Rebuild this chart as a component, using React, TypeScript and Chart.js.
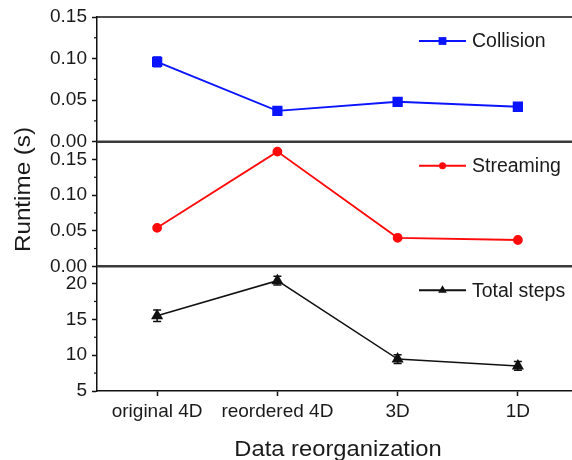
import React, { useEffect, useRef } from 'react';
import { Chart, registerables } from 'chart.js';

Chart.register(...registerables);

// ---- data ----
const categories = ['original 4D', 'reordered 4D', '3D', '1D'];
const collision = [0.096, 0.037, 0.048, 0.042];
const collisionErr = [0.006, 0.002, 0.002, 0.002];
const streaming = [0.054, 0.161, 0.04, 0.037];
const totalSteps = [15.5, 20.4, 9.45, 8.5];
const totalErr = [0.8, 0.6, 0.6, 0.6];

const collisionTicks = [0, 0.05, 0.1, 0.15];
const collisionMinor = [0.025, 0.075, 0.125];
const streamingTicks = [0, 0.05, 0.1, 0.15];
const streamingMinor = [0.025, 0.075, 0.125];
const totalTicks = [5, 10, 15, 20];
const totalMinor = [7.5, 12.5, 17.5];

const FONT = "'Liberation Sans', Arial, sans-serif";
const TEXT = '#1a1a1a';

const errs: Record<string, number[]> = { Collision: collisionErr, 'Total steps': totalErr };
const minors: Record<string, number[]> = { yC: collisionMinor, yS: streamingMinor, yT: totalMinor };

function drawMarker(ctx: CanvasRenderingContext2D, style: string, x: number, y: number, r: number, color: string) {
  ctx.save();
  ctx.fillStyle = color;
  ctx.beginPath();
  if (style === 'rect') {
    const s = Math.SQRT1_2 * r;
    ctx.rect(x - s, y - s, 2 * s, 2 * s);
  } else if (style === 'triangle') {
    ctx.moveTo(x, y - r);
    ctx.lineTo(x + r * 0.866, y + r * 0.5);
    ctx.lineTo(x - r * 0.866, y + r * 0.5);
    ctx.closePath();
  } else {
    ctx.arc(x, y, r, 0, Math.PI * 2);
  }
  ctx.fill();
  ctx.restore();
}

const decorPlugin = {
  id: 'decor',
  afterDatasetsDraw(chart: any) {
    const ctx = chart.ctx;
    chart.data.datasets.forEach((ds: any, di: number) => {
      const e = errs[ds.label];
      if (!e) return;
      const meta = chart.getDatasetMeta(di);
      const ys = chart.scales[ds.yAxisID];
      ctx.save();
      ctx.strokeStyle = ds.borderColor;
      ctx.lineWidth = 1.5;
      meta.data.forEach((pt: any, i: number) => {
        const v = ds.data[i].y;
        const y1 = ys.getPixelForValue(v - e[i]);
        const y2 = ys.getPixelForValue(v + e[i]);
        ctx.beginPath();
        ctx.moveTo(pt.x, y1);
        ctx.lineTo(pt.x, y2);
        ctx.moveTo(pt.x - 4, y1);
        ctx.lineTo(pt.x + 4, y1);
        ctx.moveTo(pt.x - 4, y2);
        ctx.lineTo(pt.x + 4, y2);
        ctx.stroke();
      });
      ctx.restore();
    });
  },
  afterDraw(chart: any) {
    const ctx = chart.ctx;
    const a = chart.chartArea;
    const W = chart.width;
    ctx.save();
    // top frame
    ctx.strokeStyle = '#111';
    ctx.lineWidth = 1.5;
    ctx.beginPath();
    ctx.moveTo(a.left, a.top);
    ctx.lineTo(W, a.top);
    ctx.stroke();
    // separators
    ctx.strokeStyle = '#3a3a3a';
    ctx.lineWidth = 2.5;
    ['yS', 'yT'].forEach((id) => {
      const s = chart.scales[id];
      ctx.beginPath();
      ctx.moveTo(a.left, s.top);
      ctx.lineTo(W, s.top);
      ctx.stroke();
    });
    // minor ticks
    ctx.strokeStyle = '#111';
    ctx.lineWidth = 1.2;
    Object.keys(minors).forEach((id) => {
      const s = chart.scales[id];
      minors[id].forEach((v) => {
        const y = s.getPixelForValue(v);
        ctx.beginPath();
        ctx.moveTo(a.left - 3, y);
        ctx.lineTo(a.left, y);
        ctx.stroke();
      });
    });
    // legends
    chart.data.datasets.forEach((ds: any) => {
      const s = chart.scales[ds.yAxisID];
      const y = s.top + 24;
      const x1 = a.left + 322;
      const x2 = a.left + 369;
      ctx.strokeStyle = ds.borderColor;
      ctx.lineWidth = 2;
      ctx.beginPath();
      ctx.moveTo(x1, y);
      ctx.lineTo(x2, y);
      ctx.stroke();
      drawMarker(ctx, ds.pointStyle, (x1 + x2) / 2, y, ds.pointRadius - 0.5, ds.borderColor);
      ctx.fillStyle = TEXT;
      ctx.font = `19.5px ${FONT}`;
      ctx.textBaseline = 'middle';
      ctx.textAlign = 'left';
      ctx.fillText(ds.label, x2 + 6, y + 1);
    });
    // axis titles
    ctx.fillStyle = TEXT;
    ctx.font = `22px ${FONT}`;
    ctx.textAlign = 'center';
    ctx.textBaseline = 'alphabetic';
    ctx.save();
    ctx.translate(338, 456);
    ctx.scale(1.08, 1);
    ctx.fillText('Data reorganization', 0, 0);
    ctx.restore();
    ctx.save();
    ctx.translate(29.5, 189.5);
    ctx.rotate(-Math.PI / 2);
    ctx.scale(1.1, 1);
    ctx.fillText('Runtime (s)', 0, 0);
    ctx.restore();
    ctx.restore();
  },
};

const toXY = (arr: number[]) => arr.map((v, i) => ({ x: i, y: v }));

function yScale(min: number, max: number, ticks: number[], digits: number) {
  return {
    type: 'linear',
    position: 'left',
    stack: 'panels',
    stackWeight: 1,
    min,
    max,
    afterBuildTicks: (s: any) => {
      s.ticks = ticks.map((v) => ({ value: v }));
    },
    afterFit: (s: any) => {
      s.width = 97;
    },
    grid: {
      drawOnChartArea: false,
      drawTicks: true,
      tickLength: 5,
      tickColor: '#111',
      tickWidth: 1.5,
    },
    border: { display: true, color: '#111', width: 1.5 },
    ticks: {
      color: TEXT,
      font: { family: FONT, size: 19 },
      padding: 5,
      autoSkip: false,
      callback: (v: any) => Number(v).toFixed(digits),
    },
  };
}

export default function App() {
  const ref = useRef<HTMLCanvasElement>(null);
  useEffect(() => {
    if (!ref.current) return;
    const chart = new Chart(ref.current, {
      type: 'line',
      data: {
        datasets: [
          {
            label: 'Collision',
            data: toXY(collision),
            yAxisID: 'yC',
            borderColor: '#0a14ff',
            backgroundColor: '#0a14ff',
            borderWidth: 1.8,
            pointStyle: 'rect',
            pointRadius: 6,
          },
          {
            label: 'Streaming',
            data: toXY(streaming),
            yAxisID: 'yS',
            borderColor: '#ff0a0a',
            backgroundColor: '#ff0a0a',
            borderWidth: 1.8,
            pointStyle: 'circle',
            pointRadius: 4,
          },
          {
            label: 'Total steps',
            data: toXY(totalSteps),
            yAxisID: 'yT',
            borderColor: '#111',
            backgroundColor: '#111',
            borderWidth: 1.5,
            pointStyle: 'triangle',
            pointRadius: 5.5,
          },
        ],
      } as any,
      options: {
        responsive: false,
        animation: false,
        layout: { autoPadding: false, padding: { top: 17, right: 0, left: 0, bottom: 0 } },
        plugins: { legend: { display: false }, tooltip: { enabled: false } },
        elements: { line: { tension: 0 } },
        scales: {
          x: {
            type: 'linear',
            min: -0.5,
            max: 3.45,
            afterBuildTicks: (s: any) => {
              s.ticks = categories.map((_, i) => ({ value: i }));
            },
            afterFit: (s: any) => {
              s.height = 69;
              s.paddingRight = 0;
              s.paddingLeft = 0;
            },
            grid: {
              drawOnChartArea: false,
              tickLength: 5,
              tickColor: '#111',
              tickWidth: 1.5,
            },
            border: { display: true, color: '#111', width: 1.5 },
            ticks: {
              color: TEXT,
              font: { family: FONT, size: 19 },
              padding: 4,
              maxRotation: 0,
              autoSkip: false,
              callback: (v: any) => categories[Math.round(Number(v))] ?? '',
            },
          },
          yT: yScale(5, 22.4, totalTicks, 0),
          yS: yScale(0, 0.175, streamingTicks, 2),
          yC: yScale(0, 0.15, collisionTicks, 2),
        } as any,
      },
      plugins: [decorPlugin],
    });
    return () => chart.destroy();
  }, []);
  return (
    <div style={{ position: 'absolute', left: 0, top: 0, width: 572, height: 460, background: '#fff' }}>
      <canvas ref={ref} width={572} height={460} />
    </div>
  );
}
